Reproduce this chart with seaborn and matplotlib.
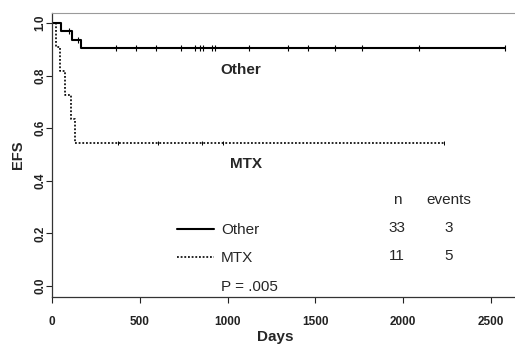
import numpy as np
import pandas as pd
import matplotlib
matplotlib.use("Agg")
import matplotlib.pyplot as plt
from matplotlib.lines import Line2D
import seaborn as sns

# --- DATA ---
groups = ["Other", "MTX"]
n_patients = [33, 11]
n_events = [3, 5]
p_label = "P = .005"

# Other: event days, EFS after each drop, censored days
other_event_days = [51, 112, 165]
other_efs = [0.970, 0.938, 0.906]
other_last_day = 2580
other_censor_days = [94, 146, 361, 477, 591, 735, 812, 841, 860, 908, 927,
                     1119, 1345, 1460, 1612, 1765, 2090, 2580]

# MTX
mtx_event_days = [23, 42, 71, 105, 131]
mtx_efs = [0.909, 0.818, 0.727, 0.636, 0.545]
mtx_last_day = 2235
mtx_censor_days = [375, 605, 852, 975, 2235]

x_ticks = [0, 500, 1000, 1500, 2000, 2500]
y_ticks = [0.0, 0.2, 0.4, 0.6, 0.8, 1.0]


def step_frame(event_days, efs, last_day):
    days = [0] + list(event_days) + [last_day]
    vals = [1.0] + list(efs) + [efs[-1]]
    return pd.DataFrame({"day": days, "efs": vals})


def censor_frame(event_days, efs, censor_days):
    levels = np.array([1.0] + list(efs))
    idx = np.searchsorted(np.array(event_days), np.array(censor_days), side="right")
    return pd.DataFrame({"day": censor_days, "efs": levels[idx]})


other_curve = step_frame(other_event_days, other_efs, other_last_day)
mtx_curve = step_frame(mtx_event_days, mtx_efs, mtx_last_day)
other_cens = censor_frame(other_event_days, other_efs, other_censor_days)
mtx_cens = censor_frame(mtx_event_days, mtx_efs, mtx_censor_days)

# --- PLOT ---
sns.set_style("ticks")
plt.rcParams['font.family'] = ['Liberation Sans', 'DejaVu Sans']

fig = plt.figure(figsize=(5.15, 3.46), dpi=100)
ax = fig.add_axes([52.3 / 515, (346 - 296.5) / 346, (515 - 52.3) / 515, (296.5 - 12.7) / 346])

solid = dict(color="black", lw=1.5)
dotted = dict(color="black", lw=1.2, linestyle=(0, (1.1, 1.1)))

sns.lineplot(data=other_curve, x="day", y="efs", drawstyle="steps-post",
             estimator=None, sort=False, ax=ax, **solid)
sns.lineplot(data=mtx_curve, x="day", y="efs", drawstyle="steps-post",
             estimator=None, sort=False, ax=ax, **dotted)
sns.scatterplot(data=other_cens, x="day", y="efs", marker="|", color="black",
                s=16, linewidth=0.8, ax=ax)
sns.scatterplot(data=mtx_cens, x="day", y="efs", marker="|", color="black",
                s=12, linewidth=0.7, ax=ax)

ax.set_xlim(0, 2638)
ax.set_ylim(-0.04, 1.04)
ax.set_xticks(x_ticks)
ax.set_yticks(y_ticks)
ax.set_xticklabels([str(t) for t in x_ticks], fontsize=8.5, fontweight="bold")
ax.set_yticklabels([f"{t:.1f}" for t in y_ticks], fontsize=8.5, fontweight="bold",
                   rotation=90, va="center")
ax.tick_params(axis="x", length=4, width=0.8, pad=10, colors="#222222")
ax.tick_params(axis="y", length=4, width=0.8, pad=0.5, colors="#222222")

for side in ["left", "bottom"]:
    ax.spines[side].set_color("#333333")
    ax.spines[side].set_linewidth(0.9)
ax.spines["right"].set_visible(False)
ax.spines["top"].set_color("#9a9a9a")
ax.spines["top"].set_linewidth(0.8)

ax.set_xlabel("Days", fontsize=11, fontweight="bold", va="center")
ax.xaxis.set_label_coords(0.481, -0.1427)
ax.set_ylabel("EFS", fontsize=10.5, fontweight="bold", va="center")
ax.yaxis.set_label_coords(-0.0735, 0.5)

# group labels on the curves
ax.text(1076, 0.822, "Other", fontsize=11, fontweight="bold", ha="center", va="center")
ax.text(1105, 0.4645, "MTX", fontsize=11, fontweight="bold", ha="center", va="center")

# legend with p-value row
handles = [Line2D([], [], **solid), Line2D([], [], **dotted),
           Line2D([], [], linestyle="none")]
ax.legend(handles, groups + [p_label], loc="center left", bbox_to_anchor=(0.269, 0.134),
          frameon=False, borderpad=0, borderaxespad=0, handlelength=2.46,
          handletextpad=0.44, labelspacing=0.93, fontsize=11)

# n / events table
ax.text(0.746, 0.340, "n", transform=ax.transAxes, fontsize=11, ha="center", va="center")
ax.text(0.856, 0.340, "events", transform=ax.transAxes, fontsize=11, ha="center", va="center")
row_y = [0.241, 0.1427]
for y, n, e in zip(row_y, n_patients, n_events):
    ax.text(0.745, y, str(n), transform=ax.transAxes, fontsize=11, ha="center", va="center")
    ax.text(0.856, y, str(e), transform=ax.transAxes, fontsize=11, ha="center", va="center")

fig.savefig("out.png", dpi=100)
